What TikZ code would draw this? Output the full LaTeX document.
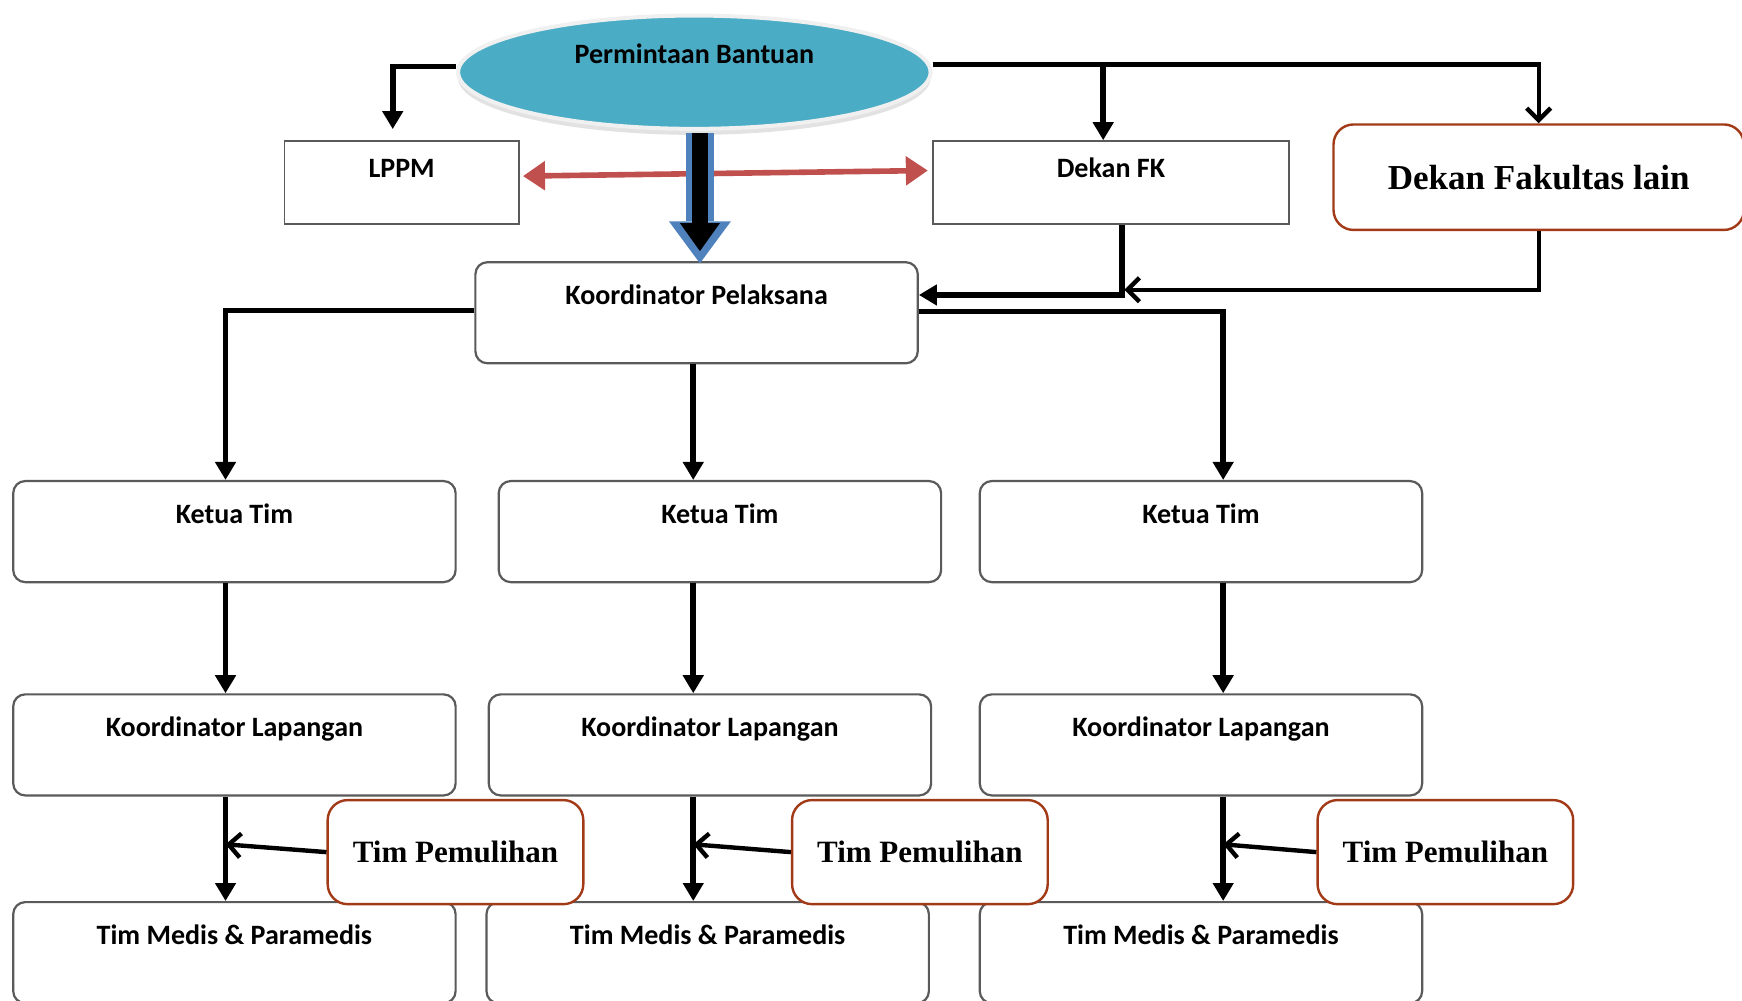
\documentclass[tikz,border=0pt]{standalone}
\usepackage{fontspec}
\setmainfont{Carlito}
\newfontfamily\serifbf{Liberation Serif}
\usepackage{tikz}
\usetikzlibrary{positioning,calc,arrows.meta,shapes.geometric,shadows}

\definecolor{boxgray}{HTML}{5A5A5A}
\definecolor{askteal}{HTML}{4BACC6}
\definecolor{arrowblue}{HTML}{4F81BD}
\definecolor{linkred}{HTML}{C0504D}
\definecolor{rustred}{HTML}{A33A17}

\tikzset{
  teambox/.style={draw=boxgray, line width=1.1pt, rounded corners=6pt, fill=white,
    minimum width=221pt, inner sep=0pt, text height=21pt, text depth=29.5pt,
    font=\fontsize{14}{16}\selectfont\bfseries},
  deanbox/.style={draw=boxgray, line width=0.9pt, fill=white, inner sep=0pt,
    text height=18pt, text depth=23.6pt, font=\fontsize{14}{16}\selectfont\bfseries},
  extbox/.style={draw=rustred, line width=1.2pt, rounded corners=10pt, fill=white,
    inner sep=0pt},
  conn/.style={line width=2.8pt, -{Triangle[length=9pt,width=10pt]}},
  openconn/.style={line width=2.2pt, -{Straight Barb[length=6pt,width=12pt]}},
}

\begin{document}
\begin{tikzpicture}[x=0.555pt,y=-0.555pt]
  \useasboundingbox (0,0) rectangle (1568,901);

  % column lines
  \coordinate (c1) at (203,0);
  \coordinate (c2) at (624,0);
  \coordinate (c3) at (1101,0);

  \node[ellipse, fill=askteal, draw=white!88!gray, line width=2pt,
    minimum width=236pt, minimum height=56.6pt, inner sep=0pt,
    text height=10pt, text depth=19pt, font=\fontsize{14}{16}\selectfont\bfseries,
    drop shadow={shadow xshift=0pt, shadow yshift=-3pt, fill=gray!45}]
    (pb) at (625,65) {Permintaan Bantuan};

  \node[deanbox, minimum width=117pt] (lppm) at (361.5,164.5) {LPPM};
  \node[deanbox, minimum width=177.6pt] (dfk) at (1000,164.5) {Dekan FK};
  \node[extbox, minimum width=205pt, minimum height=52.7pt,
    font=\fontsize{17.5}{20}\selectfont\serifbf\bfseries]
    (dfl) at (1385,159.5) {Dekan Fakultas lain};

  \node[teambox] (kp) at (627,281.5) {Koordinator Pelaksana};

  \node[teambox] (kt1) at (211,478.5) {Ketua Tim};
  \node[teambox] (kt2) at (648,478.5) {Ketua Tim};
  \node[teambox] (kt3) at (1081,478.5) {Ketua Tim};

  \node[teambox] (kl1) at (211,670.5) {Koordinator Lapangan};
  \node[teambox] (kl2) at (639,670.5) {Koordinator Lapangan};
  \node[teambox] (kl3) at (1081,670.5) {Koordinator Lapangan};

  \node[teambox] (tm1) at (211,857.5) {Tim Medis \& Paramedis};
  \node[teambox] (tm2) at (637,857.5) {Tim Medis \& Paramedis};
  \node[teambox] (tm3) at (1081,857.5) {Tim Medis \& Paramedis};

  \node[extbox, minimum width=127.7pt, minimum height=52pt,
    font=\fontsize{15.5}{18}\selectfont\serifbf\bfseries] (tp1) at (410,767) {Tim Pemulihan};
  \node[extbox, minimum width=127.7pt, minimum height=52pt,
    font=\fontsize{15.5}{18}\selectfont\serifbf\bfseries] (tp2) at (828,767) {Tim Pemulihan};
  \node[extbox, minimum width=127.7pt, minimum height=52pt,
    font=\fontsize{15.5}{18}\selectfont\serifbf\bfseries] (tp3) at (1301,767) {Tim Pemulihan};

  % top links
  \draw[conn] ($(pb.west)+(0,-5)$) -| ($(lppm.north)+(-8,-10)$);
  \draw[openconn] ($(pb.east)+(0,-7)$) -| (dfl.north);
  \draw[conn] ($(pb.east)+(0,-7)$) -| ($(dfk.north)+(-7,0)$);
  \draw[line width=2.8pt, linkred, {Triangle[length=11pt,width=14pt]}-{Triangle[length=11pt,width=14pt]}]
    ($(lppm.east)+(3,-6)$) -- ($(dfk.west)+(-4,-11)$);
  \draw[line width=14pt, arrowblue, -{Triangle[length=21pt,width=31pt,line width=0pt]}]
    ($(pb.south)+(5,2)$) -- ($(kp.north)+(3,2)$);
  \draw[line width=8pt, -{Triangle[length=14pt,width=20pt,line width=0pt]}]
    ($(pb.south)+(5,2)$) -- ($(kp.north)+(3,-9)$);
  \draw[conn] ($(dfk.south)+(10,0)$) |- ($(kp.east)+(0,-16)$);
  \draw[openconn] (dfl.south) |- ($(dfk.south)+(12,58)$);

  % down to the teams
  \draw[conn] ($(kp.west)+(0,-2)$) -| (kt1.north -| c1);
  \draw[conn] (kp.south -| c2) -- (kt2.north -| c2);
  \draw[conn] ($(kp.east)+(0,-1)$) -| (kt3.north -| c3);

  \draw[conn] (kt1.south -| c1) -- (kl1.north -| c1);
  \draw[conn] (kt2.south -| c2) -- (kl2.north -| c2);
  \draw[conn] (kt3.south -| c3) -- (kl3.north -| c3);

  \draw[conn] (kl1.south -| c1) -- (tm1.north -| c1);
  \draw[conn] (kl2.south -| c2) -- (tm2.north -| c2);
  \draw[conn] (kl3.south -| c3) -- (tm3.north -| c3);

  \draw[openconn] (tp1.west) -- ($(tp1.west -| c1)+(0,-7)$);
  \draw[openconn] (tp2.west) -- ($(tp2.west -| c2)+(0,-7)$);
  \draw[openconn] (tp3.west) -- ($(tp3.west -| c3)+(0,-7)$);
\end{tikzpicture}
\end{document}
